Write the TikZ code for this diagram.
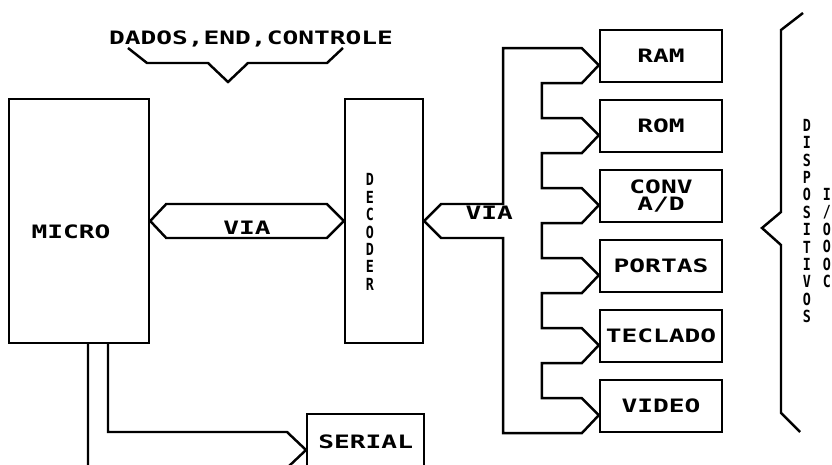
\documentclass[tikz,border=0pt]{standalone}
\usepackage{fontspec}
\newfontfamily\plotfont[FakeStretch=1.42]{DejaVu Sans Mono Bold}
\newfontfamily\stackfont[FakeStretch=0.8]{DejaVu Sans Mono Bold}
\usetikzlibrary{calc}
\tikzset{
  bus/.style={line width=1.4pt, line join=miter},
  blk/.style={draw, line width=1.4pt, inner sep=0pt, align=center,
    font=\plotfont\fontsize{10.5}{9.8}\selectfont},
  dev/.style={blk, minimum width=2.44cm, minimum height=1.04cm},
  lbl/.style={inner sep=0pt, font=\plotfont\fontsize{10.5}{9}\selectfont},
  stack/.style={inner sep=0pt, align=center, font=\stackfont\fontsize{9.5}{9.9}\selectfont}
}

\begin{document}
\begin{tikzpicture}[x=0.02cm, y=-0.02cm]
    \useasboundingbox (0,0) rectangle (832,465);

    % micro e decoder
    \node[blk, minimum width=2.8cm, minimum height=4.88cm] (micro) at (79,221) {};
    \node[lbl] (microlabel) at (71,232) {MICRO};
    \node[blk, minimum width=1.56cm, minimum height=4.88cm] (decoder) at (384,221) {};
    \node[stack] (declabel) at (370,232) {D\\E\\C\\O\\D\\E\\R};

    % dispositivos
    \node[dev] (ram) at (661,56) {RAM};
    \node[dev] (rom) at (661,126) {ROM};
    \node[dev] (conv) at (661,196) {CONV\\A/D};
    \node[dev] (portas) at (661,266) {PORTAS};
    \node[dev] (teclado) at (661,336) {TECLADO};
    \node[dev] (video) at (661,406) {VIDEO};
    \node[blk, minimum width=2.34cm, minimum height=1.12cm, anchor=north west] (serial) at (306,413) {SERIAL};

    \coordinate (ram-in) at ($(ram.south west)+(0,-18)$);
    \coordinate (rom-in) at ($(rom.south west)+(0,-18)$);
    \coordinate (conv-in) at ($(conv.south west)+(0,-18)$);
    \coordinate (portas-in) at ($(portas.south west)+(0,-18)$);
    \coordinate (teclado-in) at ($(teclado.south west)+(0,-18)$);
    \coordinate (video-in) at ($(video.south west)+(0,-18)$);
    \coordinate (serial-in) at ($(serial.north west)+(0,37)$);

    % via micro -> decoder
    \draw[bus] (micro.east) -- ++(16,-17) -- ($(decoder.west)+(-17,-17)$) -- (decoder.west)
      -- ++(-17,17) -- ($(micro.east)+(16,17)$) -- cycle;
    \node[lbl] (via1) at ($(micro.east)!0.5!(decoder.west)+(0,7)$) {VIA};

    % via decoder -> dispositivos
    \draw[bus] (decoder.east) -- ++(17,-17) -- ++(62,0)
      |- ($(ram-in)+(-17,-17)$) -- (ram-in) -- ++(-17,18) -- ++(-40,0)
      |- ($(rom-in)+(-17,-17)$) -- (rom-in) -- ++(-17,18) -- ++(-40,0)
      |- ($(conv-in)+(-17,-17)$) -- (conv-in) -- ++(-17,18) -- ++(-40,0)
      |- ($(portas-in)+(-17,-17)$) -- (portas-in) -- ++(-17,18) -- ++(-40,0)
      |- ($(teclado-in)+(-17,-17)$) -- (teclado-in) -- ++(-17,18) -- ++(-40,0)
      |- ($(video-in)+(-17,-17)$) -- (video-in) -- ++(-17,18)
      -| ($(decoder.east)+(79,17)$) -- ++(-62,0) -- cycle;
    \node[lbl] (via2) at ($(decoder.east)+(65,-8)$) {VIA};

    % micro -> serial
    \draw[bus] ($(micro.south)+(29,0)$) |- ($(serial-in)+(-19,-18)$) -- (serial-in)
      -- ++(-19,18) -| ($(micro.south)+(9,0)$);

    % chave de cima
    \node[lbl] (title) at (251,39) {DADOS,END,CONTROLE};
    \draw[bus] (128,48) -- (147,63) -- (208,63) -- (228,82) -- (248,63) -- (327,63) -- (343,48);

    % chave da direita
    \draw[bus] (803,13) -- (781,30) -- (781,212) -- (762,228) -- (781,245) -- (781,413) -- (800,432);
    \node[stack] (disp) at (807,221) {D\\I\\S\\P\\O\\S\\I\\T\\I\\V\\O\\S};
    \node[stack] (es) at (827,238) {I\\/\\O\\O\\O\\C};
\end{tikzpicture}
\end{document}
